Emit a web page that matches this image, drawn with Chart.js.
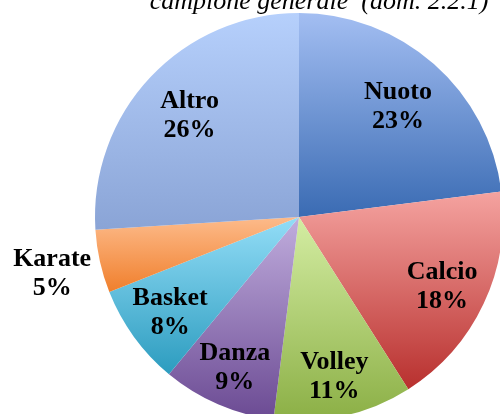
<!DOCTYPE html>
<html><head><meta charset="utf-8">
<script src="https://cdn.jsdelivr.net/npm/chart.js@4/dist/chart.umd.min.js"></script>
<style>
html,body{margin:0;padding:0;background:#fff;overflow:hidden;width:500px;height:414px;}
#wrap{position:absolute;left:0;top:0;width:600px;height:440px;}
</style></head><body>
<div id="wrap"><canvas id="c"></canvas></div>
<script>
const titleText = 'campione generale  (dom. 2.2.1)';
const categories = ['Nuoto', 'Calcio', 'Volley', 'Danza', 'Basket', 'Karate', 'Altro'];
const percentages = [23, 18, 11, 9, 8, 5, 26];
const gradientTops = ['#A3BEF2', '#F5A3A0', '#D4EDA3', '#C0ADDD', '#93DDF7', '#FDBB8B', '#B6D0FC'];
const gradientBottoms = ['#3A6BB3', '#B8302E', '#8BAF45', '#6B4A93', '#2C9CBF', '#F07F2C', '#8AA4D6'];

const gradientPlugin = {
  id: 'sliceGradient',
  beforeDatasetsDraw(chart) {
    const ctx = chart.ctx;
    const meta = chart.getDatasetMeta(0);
    meta.data.forEach((el, i) => {
      const s = el.startAngle, e = el.endAngle, R = el.outerRadius;
      const ys = [el.y, el.y + Math.sin(s) * R, el.y + Math.sin(e) * R];
      [-Math.PI / 2, Math.PI / 2, 3 * Math.PI / 2].forEach(a => {
        if (a >= s && a <= e) ys.push(el.y + Math.sin(a) * R);
      });
      const y0 = Math.min(...ys), y1 = Math.max(...ys);
      const g = ctx.createLinearGradient(0, y0, 0, y1);
      g.addColorStop(0, gradientTops[i]);
      g.addColorStop(1, gradientBottoms[i]);
      el.options = Object.assign({}, el.options, { backgroundColor: g });
    });
  }
};

const labelPlugin = {
  id: 'sliceLabels',
  afterDatasetsDraw(chart) {
    const ctx = chart.ctx;
    const meta = chart.getDatasetMeta(0);
    ctx.save();
    ctx.fillStyle = '#000';
    ctx.font = 'bold 26px "Liberation Serif"';
    ctx.textAlign = 'center';
    ctx.textBaseline = 'middle';
    meta.data.forEach((el, i) => {
      const mid = (el.startAngle + el.endAngle) / 2;
      const frac = percentages[i] < 6 ? 1.24 : 0.76 + 0.035 * Math.sin(mid);
      const x = el.x + Math.cos(mid) * el.outerRadius * frac;
      const y = el.y + Math.sin(mid) * el.outerRadius * frac + 2;
      ctx.fillText(categories[i], x, y - 14.5);
      ctx.fillText(percentages[i] + '%', x, y + 14.5);
    });
    ctx.restore();
  },
  afterDraw(chart) {
    const ctx = chart.ctx;
    ctx.save();
    ctx.fillStyle = '#000';
    ctx.font = 'italic 26px "Liberation Serif"';
    ctx.textAlign = 'center';
    ctx.textBaseline = 'alphabetic';
    ctx.fillText(titleText, 319, 8.5);
    ctx.restore();
  }
};

new Chart(document.getElementById('c'), {
  type: 'pie',
  data: {
    labels: categories,
    datasets: [{ data: percentages, backgroundColor: gradientBottoms, borderWidth: 0 }]
  },
  options: {
    responsive: true,
    maintainAspectRatio: false,
    animation: false,
    layout: { padding: { left: 95, top: 13, right: 97, bottom: 19 } },
    plugins: { legend: { display: false }, tooltip: { enabled: false } }
  },
  plugins: [gradientPlugin, labelPlugin]
});
</script>
</body></html>
